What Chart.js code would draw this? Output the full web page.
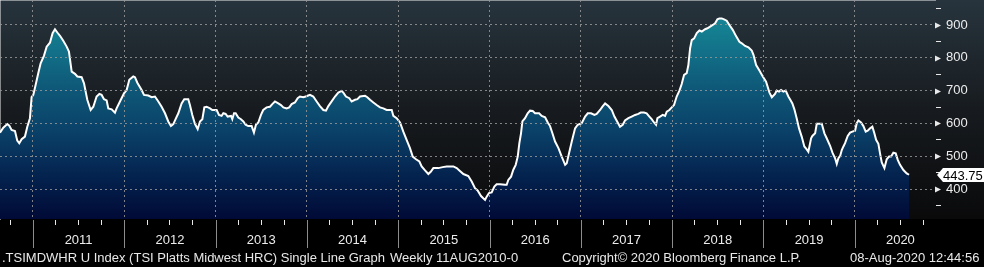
<!DOCTYPE html>
<html>
<head>
<meta charset="utf-8">
<script src="https://cdn.jsdelivr.net/npm/chart.js@4.4.1/dist/chart.umd.min.js"></script>
<style>
html,body{margin:0;padding:0;background:#000;width:984px;height:267px;overflow:hidden;}
#wrap{position:relative;width:984px;height:267px;}
#hrcChart{position:absolute;left:0;top:0;}
.foot{position:absolute;top:250px;font:13px "Liberation Sans",Arial,sans-serif;color:#e8e8e8;white-space:pre;line-height:16px;}
</style>
</head>
<body>
<div id="wrap">
<canvas id="hrcChart" width="984" height="267"></canvas>
<div class="foot" style="left:2px">.TSIMDWHR U Index (TSI Platts Midwest HRC) Single Line Graph</div>
<div class="foot" style="left:390px">Weekly 11AUG2010-0</div>
<div class="foot" style="left:562px">Copyright© 2020 Bloomberg Finance L.P.</div>
<div class="foot" style="left:850px">08-Aug-2020 12:44:56</div>
</div>
<script>
// dates as decimal years
var dates2010_12 = [2010.639,2010.675,2010.719,2010.741,2010.766,2010.803,2010.828,2010.850,2010.876,2010.912,2010.938,2010.967,2010.985,
  2011.004,2011.029,2011.058,2011.084,2011.120,2011.150,2011.186,2011.215,2011.241,2011.267,2011.296,2011.332,2011.369,2011.394,2011.424,2011.460,2011.486,
  2011.533,2011.559,2011.595,2011.632,2011.661,2011.697,2011.727,2011.752,2011.778,2011.807,2011.825,2011.862,2011.898,2011.916,2011.953,2011.997,
  2012.026,2012.055,2012.099,2012.117,2012.143,2012.190,2012.216,2012.263,2012.300,
  2012.336,2012.373,2012.409,2012.446,2012.482,2012.511,2012.537,2012.562,2012.592,2012.628,2012.657,2012.701,2012.719,2012.745,2012.774,2012.804,
  2012.829,2012.855,2012.877,2012.902,2012.939,2012.964];
var prices2010_12 = [572,587,598,593,580,577,548,540,552,560,590,616,680,
  687,717,753,783,806,834,846,875,887,877,867,852,834,819,758,751,743,
  741,722,672,641,651,682,690,687,674,670,646,643,633,646,667,692,
  702,733,743,741,724,702,687,685,680,
  682,667,651,631,606,592,598,613,631,661,674,674,656,626,599,583,
  606,613,649,651,646,641];

var dates2013_15 = [2013.012,2013.037,2013.066,2013.085,2013.110,2013.132,2013.169,2013.183,2013.202,2013.220,2013.249,2013.278,2013.304,2013.329,
  2013.358,2013.395,2013.420,2013.442,2013.468,2013.497,2013.522,2013.559,2013.596,2013.621,2013.650,2013.687,2013.716,2013.742,2013.778,2013.807,
  2013.833,2013.869,2013.899,2013.924,2013.961,2013.986,2014.015,
  2014.034,2014.070,2014.107,2014.143,2014.180,2014.209,2014.235,2014.271,2014.308,2014.344,2014.381,2014.399,2014.428,2014.465,2014.490,2014.527,
  2014.553,2014.582,2014.637,2014.662,2014.691,2014.728,2014.764,2014.801,2014.837,2014.874,2014.929,2014.947,2014.983,
  2015.020,2015.056,2015.100,2015.129,2015.159,2015.195,2015.232,2015.257,2015.294,2015.330,2015.356,2015.385,2015.440,2015.487,2015.531,2015.604,
  2015.641,2015.670,2015.714,2015.768,2015.805,2015.841,2015.870,2015.907,2015.932,2015.951,2015.969,2015.994];
var prices2013_15 = [641,626,623,631,629,621,623,613,631,631,618,613,606,596,
  592,592,572,596,603,626,641,649,651,659,667,661,656,649,646,
  649,659,664,677,682,680,682,685,
  687,682,667,653,641,639,653,667,682,694,699,694,682,677,667,672,
  674,682,684,680,672,664,656,649,646,641,641,623,616,
  603,575,545,525,499,491,484,469,457,446,453,464,464,467,469,469,
  464,457,446,440,423,403,396,379,372,367,377,388];

var dates2016_18 = [2016.024,2016.053,2016.078,2016.115,2016.170,2016.188,2016.206,2016.236,2016.261,2016.287,2016.309,2016.327,2016.345,2016.360,
  2016.389,2016.418,2016.444,2016.473,2016.499,2016.543,2016.572,2016.609,2016.638,2016.663,2016.689,2016.718,2016.755,2016.791,2016.828,2016.846,
  2016.871,2016.901,2016.937,2016.966,
  2017.010,2017.047,2017.076,2017.112,2017.149,2017.174,2017.211,2017.237,2017.266,2017.302,2017.339,2017.368,2017.404,
  2017.429,2017.459,2017.484,2017.521,2017.557,2017.594,2017.630,2017.656,2017.692,2017.721,2017.751,2017.776,2017.802,2017.824,2017.839,2017.868,
  2017.897,2017.923,2017.941,2017.970,2017.996,
  2018.021,2018.050,2018.080,2018.105,2018.131,2018.160,2018.178,2018.197,2018.215,2018.241,2018.270,2018.299,2018.325,2018.361,2018.387,2018.416,
  2018.445,2018.471,2018.496,2018.518,2018.543,2018.569,2018.598,2018.627,2018.664,2018.700,2018.737,2018.763,2018.799,2018.836,2018.872,2018.891,
  2018.920,2018.956,2018.993];
var prices2016_18 = [390,408,415,415,413,413,428,438,459,474,499,540,570,606,
  616,631,639,638,631,631,623,619,603,592,570,545,525,499,474,479,
  509,545,585,596,
  601,621,631,631,626,629,641,651,661,653,641,621,603,
  590,596,609,616,621,626,629,633,633,631,621,613,603,596,616,621,
  626,623,636,641,649,
  656,682,700,720,748,753,778,829,854,859,875,883,880,887,890,
  895,900,905,917,920,920,917,913,900,885,866,849,844,836,832,822,
  809,778,761];

var dates2019_20 = [2019.029,2019.066,2019.092,2019.127,2019.145,2019.171,2019.193,2019.218,2019.244,2019.273,2019.291,2019.317,2019.339,2019.364,
  2019.390,2019.419,2019.448,2019.474,2019.492,2019.522,2019.536,2019.566,2019.584,2019.602,2019.639,2019.668,2019.693,2019.730,2019.756,2019.785,
  2019.803,2019.821,2019.840,2019.858,2019.876,2019.894,2019.923,2019.949,2019.974,
  2020.004,2020.022,2020.040,2020.069,2020.095,2020.120,2020.142,2020.168,2020.193,2020.215,2020.234,2020.259,2020.277,2020.296,2020.325,2020.350,
  2020.376,2020.398,2020.423,2020.449,2020.471,2020.496,2020.533,2020.569,2020.595,2020.617];
var prices2019_20 = [743,727,694,680,690,700,697,702,697,700,682,674,661,643,
  616,585,560,530,521,514,555,562,570,599,599,599,570,555,532,511,
  494,477,494,501,519,530,540,562,572,
  575,578,601,609,603,592,575,578,585,590,570,550,538,509,481,464,
  491,499,499,511,509,489,474,458,448,443.75];

var yearLabels = ["2011","2012","2013","2014","2015","2016","2017","2018","2019","2020"];
var priceTicks = [400,500,600,700,800,900];
var lastPrice = 443.75;

var dates = dates2010_12.concat(dates2013_15, dates2016_18, dates2019_20);
var prices = prices2010_12.concat(prices2013_15, prices2016_18, prices2019_20);
var points = [];
for (let i = 0; i < dates.length; i++) {
  points.push({x: dates[i], y: prices[i]});
}

var FONT = '"Liberation Sans", Arial, sans-serif';
var GRID = 'rgba(150,150,150,0.85)';

function isYear(v){ return Math.abs(v - Math.round(v)) < 0.01; }
function noPad(s){ s.paddingTop = 0; s.paddingBottom = 0; s.paddingLeft = 0; s.paddingRight = 0; }

// background + separators + value flag
var bbgDeco = {
  id: 'bbgDeco',
  beforeDraw: function(chart){
    var ctx = chart.ctx, a = chart.chartArea;
    ctx.save();
    ctx.fillStyle = '#000';
    ctx.fillRect(0, 0, chart.width, chart.height);
    var g = ctx.createLinearGradient(0, a.top, 0, a.bottom);
    g.addColorStop(0, '#27343d');
    g.addColorStop(0.5, '#171b1f');
    g.addColorStop(1, '#0a0a0b');
    ctx.fillStyle = g;
    ctx.fillRect(0, a.top, chart.width, a.bottom - a.top);
    ctx.restore();
  },
  afterDraw: function(chart){
    var ctx = chart.ctx, a = chart.chartArea, xs = chart.scales.x, ys = chart.scales.y;
    ctx.save();
    // year separators under the axis
    ctx.strokeStyle = '#8c8c8c';
    ctx.lineWidth = 1;
    for (let yr = 2011; yr <= 2020; yr++) {
      var px = Math.round(xs.getPixelForValue(yr)) + 0.5;
      ctx.beginPath();
      ctx.moveTo(px, a.bottom + 1);
      ctx.lineTo(px, a.bottom + 29);
      ctx.stroke();
    }
    // arrow marks on the price axis
    ctx.fillStyle = '#e8e8e8';
    priceTicks.forEach(function(v){
      var py = Math.round(ys.getPixelForValue(v)) + 0.5;
      ctx.beginPath();
      ctx.moveTo(a.right, py - 3);
      ctx.lineTo(a.right + 6, py);
      ctx.lineTo(a.right, py + 3);
      ctx.closePath();
      ctx.fill();
    });
    // last value flag
    var ly = Math.round(ys.getPixelForValue(lastPrice));
    ctx.fillStyle = '#ffffff';
    ctx.beginPath();
    ctx.moveTo(a.right + 2, ly);
    ctx.lineTo(a.right + 8, ly - 7);
    ctx.lineTo(chart.width, ly - 7);
    ctx.lineTo(chart.width, ly + 7);
    ctx.lineTo(a.right + 8, ly + 7);
    ctx.closePath();
    ctx.fill();
    ctx.fillStyle = '#000';
    ctx.font = '13px ' + FONT;
    ctx.textBaseline = 'middle';
    ctx.fillText(lastPrice.toFixed(2), a.right + 8, ly + 1);
    ctx.restore();
  }
};

new Chart(document.getElementById('hrcChart'), {
  type: 'line',
  data: {
    datasets: [{
      data: points,
      borderColor: '#ffffff',
      borderWidth: 2,
      pointRadius: 0,
      tension: 0,
      fill: 'start',
      backgroundColor: function(context){
        var chart = context.chart, a = chart.chartArea;
        if (!a) return null;
        var g = chart.ctx.createLinearGradient(0, a.top, 0, a.bottom);
        g.addColorStop(0, '#178f9d');
        g.addColorStop(0.15, '#147d90');
        g.addColorStop(0.4, '#0e5878');
        g.addColorStop(0.6, '#0a4168');
        g.addColorStop(0.8, '#04234f');
        g.addColorStop(1, '#010a36');
        return g;
      }
    }]
  },
  options: {
    responsive: false,
    animation: false,
    layout: { padding: 0, autoPadding: false },
    plugins: { legend: { display: false }, tooltip: { enabled: false } },
    scales: {
      x: {
        type: 'linear',
        min: 2010.639,
        max: 2020.879,
        afterBuildTicks: function(s){
          var t = [];
          for (let q = 2010.75; q <= 2020.76; q += 0.25) t.push({value: Math.round(q * 100) / 100});
          s.ticks = t;
        },
        afterFit: function(s){ s.height = 48; noPad(s); },
        grid: {
          z: 1,
          color: function(c){ return c.tick && isYear(c.tick.value) ? GRID : 'transparent'; },
          tickColor: function(c){ return c.tick && isYear(c.tick.value) ? 'transparent' : '#e8e8e8'; },
          tickLength: 6,
          lineWidth: 1
        },
        border: { display: true, color: '#f2f2f2', width: 1, dash: [2, 3] },
        ticks: {
          color: '#ececec',
          font: { family: FONT, size: 13 },
          padding: 8,
          autoSkip: false,
          maxRotation: 0,
          callback: function(v){
            var f = v - Math.floor(v);
            if (Math.abs(f - 0.5) < 0.01) return yearLabels[Math.floor(v) - 2011] || '';
            return '';
          }
        }
      },
      y: {
        position: 'right',
        min: 309,
        max: 976,
        afterBuildTicks: function(s){
          var t = [];
          for (let v = 350; v <= 950; v += 50) t.push({value: v});
          s.ticks = t;
        },
        afterFit: function(s){ s.width = 49; noPad(s); },
        grid: {
          z: 1,
          color: function(c){ return c.tick && priceTicks.indexOf(c.tick.value) >= 0 ? GRID : 'transparent'; },
          tickColor: function(c){ return c.tick && priceTicks.indexOf(c.tick.value) >= 0 ? 'transparent' : '#e8e8e8'; },
          tickLength: 6,
          lineWidth: 1
        },
        border: { display: true, color: '#f2f2f2', width: 1, dash: [2, 3] },
        ticks: {
          color: '#ececec',
          font: { family: FONT, size: 13 },
          padding: 5,
          autoSkip: false,
          callback: function(v){ return priceTicks.indexOf(v) >= 0 ? String(v) : ''; }
        }
      }
    }
  },
  plugins: [bbgDeco]
});
</script>
</body>
</html>
